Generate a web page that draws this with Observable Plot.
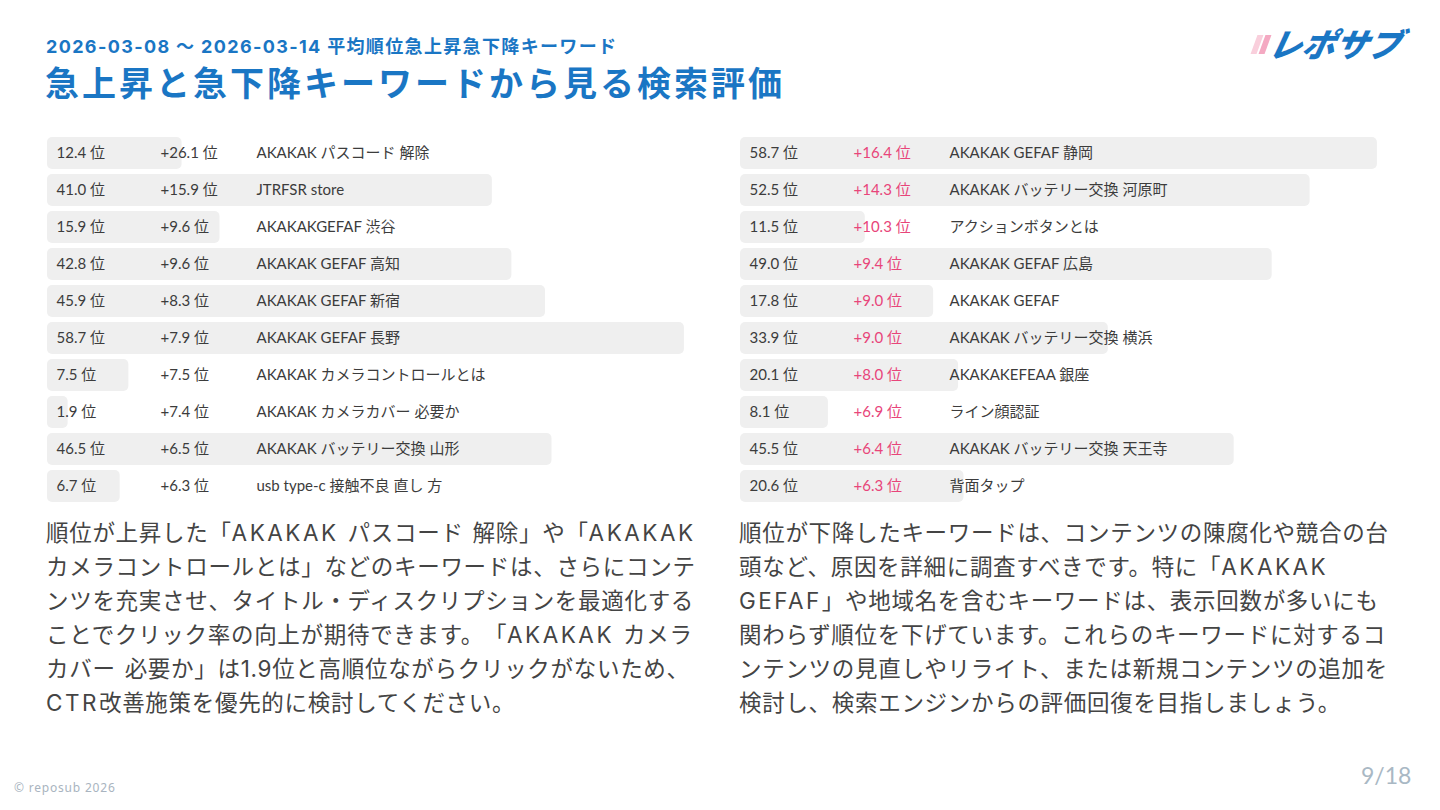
<!DOCTYPE html>
<html><head><meta charset="utf-8">
<script src="https://cdn.jsdelivr.net/npm/d3@7"></script>
<script src="https://cdn.jsdelivr.net/npm/@observablehq/plot@0.6"></script>
<style>
html,body{margin:0;padding:0;background:#fff;}
body{width:1440px;height:810px;position:relative;overflow:hidden;font-family:"Noto Sans CJK JP","Noto Sans",sans-serif;}
.abs{position:absolute;}
#sub{left:46px;top:35px;font-size:18px;font-weight:700;color:#1a76c4;letter-spacing:1.35px;white-space:nowrap;line-height:24px;font-family:Inter,"Noto Sans CJK JP",sans-serif;}
#title{left:45px;top:60px;font-size:34px;font-weight:700;color:#1a76c4;letter-spacing:3px;white-space:nowrap;line-height:44px;}
#logo{left:1250px;top:24px;width:170px;height:40px;}
.stripe{position:absolute;top:11px;width:6px;height:19px;transform:skewX(-20deg);}
#logotext{position:absolute;left:20px;top:-5px;font-size:33px;font-weight:900;color:#1a76c4;font-style:italic;transform:skewX(-12deg);letter-spacing:0px;white-space:nowrap;}
.para{font-size:22.5px;color:#444;line-height:34px;letter-spacing:0.7px;font-family:Inter,"Noto Sans CJK JP",sans-serif;text-spacing-trim:space-all;word-spacing:2px;}
.para div{white-space:nowrap;}
.lat{letter-spacing:2.5px;}
#p1{left:46px;top:516px;width:660px;}
#p2{left:739px;top:516px;width:660px;}
#foot{left:14px;top:779px;font-size:12px;color:#a9b4c0;letter-spacing:0.8px;font-family:"Noto Sans",sans-serif;}
#page{left:1361px;top:761px;font-size:23px;color:#a9b8c4;font-family:Lato,"Noto Sans",sans-serif;}
#t1{left:47px;top:133.5px;}
#t2{left:740px;top:133.5px;}
</style></head>
<body>
<div id="sub" class="abs">2026-03-08 ～ 2026-03-14 平均順位急上昇急下降キーワード</div>
<div id="title" class="abs">急上昇と急下降キーワードから見る検索評価</div>
<div id="logo" class="abs">
  <div class="stripe" style="left:4px;background:#f9cfdc;"></div>
  <div class="stripe" style="left:12px;background:#f4a9c2;"></div>
  <div id="logotext">レポサブ</div>
</div>
<div id="t1" class="abs"></div>
<div id="t2" class="abs"></div>
<div id="p1" class="abs para">
<div>順位が上昇した「<span class="lat">AKAKAK</span> パスコード 解除」や「<span class="lat">AKAKAK</span></div>
<div>カメラコントロールとは」などのキーワードは、さらにコンテ</div>
<div>ンツを充実させ、タイトル・ディスクリプションを最適化する</div>
<div>ことでクリック率の向上が期待できます。「<span class="lat">AKAKAK</span> カメラ</div>
<div>カバー 必要か」は1.9位と高順位ながらクリックがないため、</div>
<div><span class="lat">CTR</span>改善施策を優先的に検討してください。</div>
</div>
<div id="p2" class="abs para">
<div>順位が下降したキーワードは、コンテンツの陳腐化や競合の台</div>
<div>頭など、原因を詳細に調査すべきです。特に「<span class="lat">AKAKAK</span></div>
<div><span class="lat">GEFAF</span>」や地域名を含むキーワードは、表示回数が多いにも</div>
<div>関わらず順位を下げています。これらのキーワードに対するコ</div>
<div>ンテンツの見直しやリライト、または新規コンテンツの追加を</div>
<div>検討し、検索エンジンからの評価回復を目指しましょう。</div>
</div>
<div id="foot" class="abs">© reposub 2026</div>
<div id="page" class="abs">9/18</div>
<script>
// ---- data ----
const upKeywords = ["AKAKAK パスコード 解除","JTRFSR store","AKAKAKGEFAF 渋谷","AKAKAK GEFAF 高知","AKAKAK GEFAF 新宿","AKAKAK GEFAF 長野","AKAKAK カメラコントロールとは","AKAKAK カメラカバー 必要か","AKAKAK バッテリー交換 山形","usb type-c 接触不良 直し 方"];
const upRanks = [12.4,41.0,15.9,42.8,45.9,58.7,7.5,1.9,46.5,6.7];
const upChanges = [26.1,15.9,9.6,9.6,8.3,7.9,7.5,7.4,6.5,6.3];

const downKeywords = ["AKAKAK GEFAF 静岡","AKAKAK バッテリー交換 河原町","アクションボタンとは","AKAKAK GEFAF 広島","AKAKAK GEFAF","AKAKAK バッテリー交換 横浜","AKAKAKEFEAA 銀座","ライン顔認証","AKAKAK バッテリー交換 天王寺","背面タップ"];
const downRanks = [58.7,52.5,11.5,49.0,17.8,33.9,20.1,8.1,45.5,20.6];
const downChanges = [16.4,14.3,10.3,9.4,9.0,9.0,8.0,6.9,6.4,6.3];

function table(keywords, ranks, changes, changeColor) {
  const rows = keywords.map((k, i) => ({i, keyword: k, rank: ranks[i], change: changes[i]}));
  return Plot.plot({
    width: 651, height: 371,
    marginLeft: 0, marginRight: 0, marginTop: 0, marginBottom: 0,
    x: {domain: [0, 60], axis: null},
    y: {domain: d3.range(rows.length), axis: null, paddingInner: 0.135, paddingOuter: 0.0675},
    style: {fontFamily: "Lato, 'Noto Sans CJK JP', sans-serif", fontSize: "15px", background: "transparent", overflow: "visible"},
    marks: [
      Plot.barX(rows, {x: "rank", y: "i", fill: "#efefef", rx: 5}),
      Plot.text(rows, {y: "i", frameAnchor: "left", dx: 9, textAnchor: "start", text: d => d.rank.toFixed(1) + " 位", fill: "#3c3c3c"}),
      Plot.text(rows, {y: "i", frameAnchor: "left", dx: 113, textAnchor: "start", text: d => "+" + d.change.toFixed(1) + " 位", fill: changeColor}),
      Plot.text(rows, {y: "i", frameAnchor: "left", dx: 209, textAnchor: "start", text: "keyword", fill: "#3c3c3c"})
    ]
  });
}
document.getElementById("t1").appendChild(table(upKeywords, upRanks, upChanges, "#3c3c3c"));
document.getElementById("t2").appendChild(table(downKeywords, downRanks, downChanges, "#e8457a"));
</script>
</body></html>
